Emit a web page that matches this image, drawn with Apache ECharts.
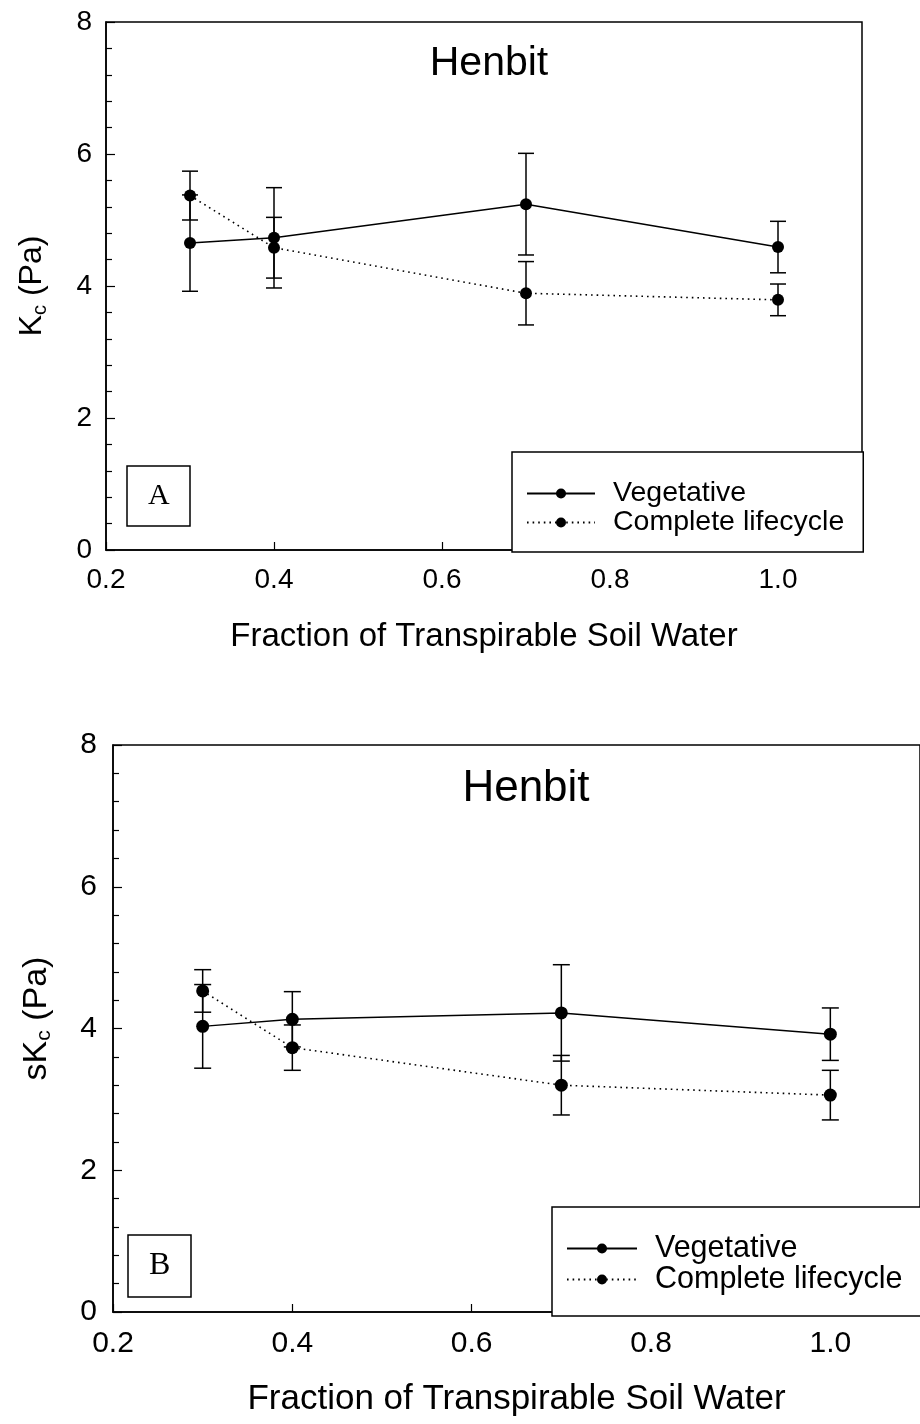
<!DOCTYPE html>
<html>
<head>
<meta charset="utf-8">
<script src="https://cdn.jsdelivr.net/npm/echarts@6/dist/echarts.min.js"></script>
<style>
html, body { margin: 0; padding: 0; background: #fff; }
#panel { width: 920px; height: 1424px; }
</style>
</head>
<body>
<div id="panel"></div>
<script>
// x values (fraction of transpirable soil water)
var fraction = [0.3, 0.4, 0.7, 1.0];
var seriesNames = ['Vegetative', 'Complete lifecycle'];

// panel A: Kc (Pa), mean and error
var kcVeg = [4.65, 4.73, 5.24, 4.59];
var kcVegErr = [0.73, 0.76, 0.77, 0.39];
var kcLife = [5.37, 4.58, 3.89, 3.79];
var kcLifeErr = [0.37, 0.46, 0.48, 0.24];

// panel B: sKc (Pa), mean and error
var skcVeg = [4.03, 4.13, 4.22, 3.92];
var skcVegErr = [0.59, 0.39, 0.68, 0.37];
var skcLife = [4.53, 3.73, 3.20, 3.06];
var skcLifeErr = [0.30, 0.32, 0.42, 0.35];

var FONT = 'Arial, "Liberation Sans", sans-serif';
var SERIF = '"Liberation Serif", "Times New Roman", serif';

function pairs(ys) {
    return fraction.map(function (x, i) { return [x, ys[i]]; });
}
function bars(ys, err) {
    return fraction.map(function (x, i) { return [x, ys[i] - err[i], ys[i] + err[i]]; });
}
function errorRenderer(half) {
    return function (params, api) {
        var x = api.value(0);
        var lo = api.coord([x, api.value(1)]);
        var hi = api.coord([x, api.value(2)]);
        var st = { stroke: '#000', lineWidth: 1.5 };
        return {
            type: 'group',
            children: [
                { type: 'line', shape: { x1: lo[0], y1: lo[1], x2: hi[0], y2: hi[1] }, style: st },
                { type: 'line', shape: { x1: lo[0] - half, y1: lo[1], x2: lo[0] + half, y2: lo[1] }, style: st },
                { type: 'line', shape: { x1: hi[0] - half, y1: hi[1], x2: hi[0] + half, y2: hi[1] }, style: st }
            ]
        };
    };
}

function xAxisFor(idx, fs, nameFs, gap, labelMargin) {
    return {
        type: 'value', gridIndex: idx, min: 0.2, max: 1.1, interval: 0.2,
        name: 'Fraction of Transpirable Soil Water', nameLocation: 'middle', nameGap: gap,
        nameTextStyle: { color: '#000', fontFamily: FONT, fontSize: nameFs },
        axisLine: { lineStyle: { color: '#000', width: 1.5 } },
        axisTick: { inside: true, length: 8, lineStyle: { color: '#000', width: 1.2 } },
        axisLabel: { color: '#000', fontFamily: FONT, fontSize: fs, margin: labelMargin, showMaxLabel: false,
            formatter: function (v) { return v.toFixed(1); } },
        splitLine: { show: false }
    };
}
function yAxisFor(idx, prefix, fs, nameFs, gap, labelMargin, shift) {
    return {
        type: 'value', gridIndex: idx, min: 0, max: 8, interval: 2,
        name: '{n|' + prefix + '}{s|c}{n| (Pa)}', nameLocation: 'middle', nameGap: gap,
        nameTextStyle: {
            color: '#000',
            padding: [0, 0, 0, shift],
            rich: {
                n: { fontFamily: FONT, fontSize: nameFs, color: '#000' },
                s: { fontFamily: FONT, fontSize: Math.round(nameFs * 0.62), color: '#000', padding: [15, 0, 0, 0] }
            }
        },
        axisLine: { lineStyle: { color: '#000', width: 1.5 } },
        axisTick: { inside: true, length: 9, lineStyle: { color: '#000', width: 1.2 } },
        minorTick: { show: true, splitNumber: 5, length: 6, lineStyle: { color: '#000', width: 1.2 } },
        axisLabel: { color: '#000', fontFamily: FONT, fontSize: fs, margin: labelMargin },
        splitLine: { show: false }
    };
}
function lineSeries(name, idx, data, dotted, size) {
    return {
        name: name, type: 'line', xAxisIndex: idx, yAxisIndex: idx, data: data,
        symbol: 'circle', symbolSize: size, z: 4,
        itemStyle: { color: '#000' },
        lineStyle: { color: '#000', width: dotted ? 1.6 : 1.5, type: dotted ? [1.6, 4] : 'solid' }
    };
}
function errSeries(idx, data, half) {
    return {
        type: 'custom', xAxisIndex: idx, yAxisIndex: idx, data: data, z: 3,
        renderItem: errorRenderer(half)
    };
}
function legendFor(left, top, fs, pad, iw) {
    return {
        data: seriesNames, orient: 'vertical', left: left, top: top,
        padding: pad, itemGap: 0, itemWidth: iw, itemHeight: 12.5,
        backgroundColor: '#fff', borderColor: '#000', borderWidth: 1.5,
        textStyle: { color: '#000', fontFamily: FONT, fontSize: fs, lineHeight: 28, padding: [0, 0, 0, 13] },
        selectedMode: false
    };
}
function boxLabel(text, left, top, fs, pad) {
    return {
        text: text, left: left, top: top, padding: pad,
        borderColor: '#000', borderWidth: 1.5,
        textStyle: { color: '#000', fontFamily: SERIF, fontSize: fs, fontWeight: 'normal' }
    };
}

var chart = echarts.init(document.getElementById('panel'));
chart.setOption({
    backgroundColor: '#fff',
    animation: false,
    title: [
        { text: 'Henbit', left: 484, top: 38, textAlign: 'center',
          textStyle: { color: '#000', fontFamily: FONT, fontSize: 41, fontWeight: 'normal' } },
        { text: 'Henbit', left: 521, top: 762, textAlign: 'center',
          textStyle: { color: '#000', fontFamily: FONT, fontSize: 44, fontWeight: 'normal' } },
        boxLabel('A', 127, 466, 30, [15, 21, 15, 21]),
        boxLabel('B', 128, 1235, 32, [15, 21, 15, 21])
    ],
    legend: [
        legendFor(512, 452, 28.5, [27, 19, 15, 14], 68),
        legendFor(552, 1207, 30.5, [26, 20, 21, 14], 70)
    ],
    grid: [
        { left: 106, top: 22, width: 756, height: 528, show: true, borderColor: '#000', borderWidth: 1.5 },
        { left: 113, top: 745, width: 813, height: 567, show: true, borderColor: '#000', borderWidth: 1.5 }
    ],
    xAxis: [xAxisFor(0, 28, 33, 70, 16), xAxisFor(1, 30, 35, 70, 17)],
    yAxis: [yAxisFor(0, 'K', 28, 32, 56, 14, 0), yAxisFor(1, 'sK', 30, 34, 58, 16, 20)],
    series: [
        errSeries(0, bars(kcVeg, kcVegErr), 8),
        errSeries(0, bars(kcLife, kcLifeErr), 8),
        lineSeries(seriesNames[0], 0, pairs(kcVeg), false, 12),
        lineSeries(seriesNames[1], 0, pairs(kcLife), true, 12),
        errSeries(1, bars(skcVeg, skcVegErr), 8.5),
        errSeries(1, bars(skcLife, skcLifeErr), 8.5),
        lineSeries(seriesNames[0], 1, pairs(skcVeg), false, 13),
        lineSeries(seriesNames[1], 1, pairs(skcLife), true, 13)
    ]
});
</script>
</body>
</html>
